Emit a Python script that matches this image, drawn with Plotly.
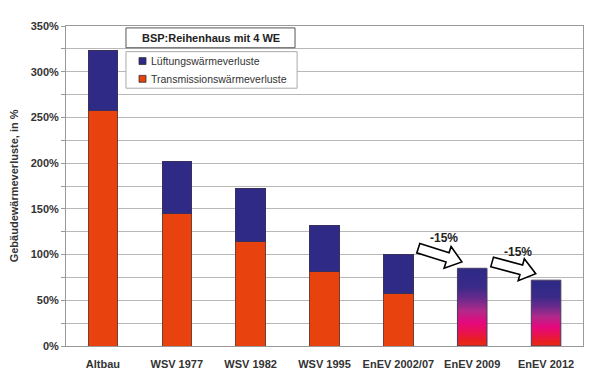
import plotly.graph_objects as go
import numpy as np

categories = ["Altbau", "WSV 1977", "WSV 1982", "WSV 1995", "EnEV 2002/07", "EnEV 2009", "EnEV 2012"]
transmission = [258, 145, 114, 82, 57, None, None]
lueftung = [65, 57, 58, 50, 43, None, None]
gesamt_neu = [None, None, None, None, None, 85, 72]
totals = [t + l for t, l in zip(transmission[:5], lueftung[:5])] + gesamt_neu[5:]
reduction_labels = ["-15%", "-15%"]
legend_names = ["Lüftungswärmeverluste", "Transmissionswärmeverluste"]
box_title = "BSP:Reihenhaus mit 4 WE"
y_title = "Gebäudewärmeverluste, in %"

BLUE = "#2e2a86"
RED = "#e8420e"
BAR_W = 0.40
FONT = "Liberation Sans, Arial, sans-serif"
x_idx = list(range(len(categories)))

fig = go.Figure()
fig.add_trace(go.Bar(x=x_idx, y=transmission, name=legend_names[1], showlegend=False,
                     marker=dict(color=RED, line=dict(color="#7a3a30", width=1)), width=BAR_W))
fig.add_trace(go.Bar(x=x_idx, y=lueftung, name=legend_names[0], showlegend=False,
                     marker=dict(color=BLUE, line=dict(color="#3a3060", width=1)), width=BAR_W))

# gradient bars for EnEV 2009 / 2012
grad_scale = [[0.0, "#e43a10"], [0.12, "#e8201e"], [0.25, "#e8105a"], [0.35, "#e4087e"],
              [0.5, "#b02a8a"], [0.65, "#6a2a8c"], [0.8, "#3a2a88"], [1.0, BLUE]]
for i, v in enumerate(gesamt_neu):
    if v is None:
        continue
    xs = [i - BAR_W / 2, i + BAR_W / 2, i + BAR_W / 2, i - BAR_W / 2, i - BAR_W / 2]
    ys = [0, 0, v, v, 0]
    fig.add_trace(go.Scatter(x=xs, y=ys, mode="lines", fill="toself",
                             fillgradient=dict(type="vertical", colorscale=grad_scale, start=0, stop=v),
                             line=dict(color="#4a3a60", width=1), showlegend=False, hoverinfo="skip"))

# hollow arrows between bars (anchored to bar totals)
PX_X = 517 / 7.0
PX_Y = 324 / 350.0
def arrow_path(x0, y0, x1, y1):
    p0 = np.array([x0 * PX_X, -y0 * PX_Y])
    p1 = np.array([x1 * PX_X, -y1 * PX_Y])
    d = p1 - p0
    L = np.linalg.norm(d)
    u = d / L
    n = np.array([-u[1], u[0]])
    sw, hw, hl = 5.0, 11.5, 15.0
    pts = [p0 + n * sw, p0 + u * (L - hl) + n * sw, p0 + u * (L - hl) + n * hw, p1,
           p0 + u * (L - hl) - n * hw, p0 + u * (L - hl) - n * sw, p0 - n * sw]
    s = ""
    for k, p in enumerate(pts):
        s += ("M" if k == 0 else "L") + f"{p[0] / PX_X:.4f},{-p[1] / PX_Y:.4f} "
    return s + "Z"

for j, (i_from, i_to) in enumerate([(4, 5), (5, 6)]):
    x0, y0 = i_from + 0.27, totals[i_from] + 7
    x1, y1 = i_to - 0.14, totals[i_to] + 7
    fig.add_shape(type="path", path=arrow_path(x0, y0, x1, y1), xref="x", yref="y",
                  fillcolor="white", line=dict(color="black", width=1.6), layer="above")
    fig.add_annotation(x=(x0 + x1) / 2 + 0.05, y=max(y0, y1) + 11, text=reduction_labels[j],
                       showarrow=False, font=dict(family=FONT, size=12, color="#222", weight="bold"),
                       xref="x", yref="y")

# title box
fig.add_shape(type="rect", xref="paper", yref="paper", x0=0.116, x1=0.443, y0=0.932, y1=0.994,
              line=dict(color="#555", width=1), fillcolor="white", layer="above")
fig.add_annotation(x=0.2795, y=0.963, xref="paper", yref="paper", text=box_title,
                   showarrow=False, font=dict(family=FONT, size=11, color="#222", weight="bold"),
                   xanchor="center", yanchor="middle")

# legend box
fig.add_shape(type="rect", xref="paper", yref="paper", x0=0.116, x1=0.447, y0=0.8056, y1=0.9198,
              line=dict(color="#aaa", width=1), fillcolor="white", layer="above")
leg_rows = [(legend_names[0], BLUE, 57.5), (legend_names[1], RED, 75.5)]
for name, col, py in leg_rows:
    yc = (346 - py) / 324
    fig.add_shape(type="rect", xref="paper", yref="paper",
                  x0=(139 - 66) / 517, x1=(146 - 66) / 517, y0=yc - 3.5 / 324, y1=yc + 3.5 / 324,
                  line=dict(color="#333", width=0.8), fillcolor=col, layer="above")
    fig.add_annotation(x=(148.5 - 66) / 517, y=yc, xref="paper", yref="paper", text=name,
                       showarrow=False, xanchor="left", yanchor="middle",
                       font=dict(family=FONT, size=10.5, color="#333"))

fig.add_annotation(x=-0.1, y=0.5, xref="paper", yref="paper", text=y_title,
                   textangle=-90, showarrow=False,
                   font=dict(family=FONT, size=11, color="#333", weight="bold"),
                   xanchor="center", yanchor="middle")

# the page body adds an 8px offset; compensate in size and margins
fig.update_layout(
    width=593, height=381,
    margin=dict(l=58, r=18, t=14, b=43),
    barmode="stack",
    plot_bgcolor="white", paper_bgcolor="white",
    font=dict(family=FONT, size=11, color="#333"),
    showlegend=False,
)
fig.update_xaxes(range=[-0.5, 6.5], tickmode="array", tickvals=x_idx, ticktext=categories,
                 showgrid=False, showline=True, linecolor="#999", mirror=True, ticks="",
                 ticklabelstandoff=8,
                 tickfont=dict(size=11, color="#333", weight="bold"), zeroline=False)
fig.update_yaxes(range=[0, 350], dtick=50, ticksuffix="%", showgrid=True, gridcolor="#b8b8b8",
                 minor=dict(dtick=25, showgrid=True, gridcolor="#b8b8b8", ticks="outside", ticklen=4, tickcolor="#999"),
                 showline=True, linecolor="#999", mirror=True, ticks="outside", ticklen=4, tickcolor="#999",
                 tickfont=dict(size=11, color="#333", weight="bold"), zeroline=False)

fig.write_html("out.html")
